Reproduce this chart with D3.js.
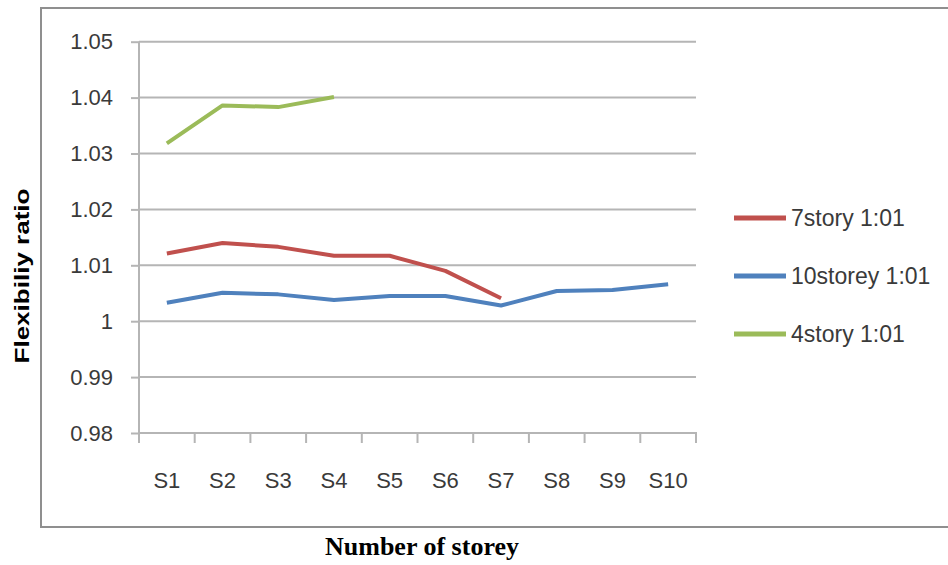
<!DOCTYPE html>
<html>
<head>
<meta charset="utf-8">
<script src="https://cdn.jsdelivr.net/npm/d3@7"></script>
<style>
  body { margin: 0; background: #fff; }
  text { font-family: "Liberation Sans", Arial, sans-serif; }
</style>
</head>
<body>
<div id="chart"></div>
<script>
// storey labels along x
var storeys = ["S1", "S2", "S3", "S4", "S5", "S6", "S7", "S8", "S9", "S10"];
var yTicks = [0.98, 0.99, 1, 1.01, 1.02, 1.03, 1.04, 1.05];

// flexibility ratio per storey
var story7 = [1.0121, 1.0140, 1.0133, 1.0117, 1.0117, 1.0090, 1.0041];
var storey10 = [1.0033, 1.0051, 1.0048, 1.0038, 1.0045, 1.0045, 1.0028, 1.0054, 1.0056, 1.0066];
var story4 = [1.0318, 1.0386, 1.0383, 1.0401];

var seriesNames = ["7story 1:01", "10storey 1:01", "4story 1:01"];
var seriesColors = ["#C0504D", "#4F81BD", "#9BBB59"];

var series = [story7, storey10, story4].map(function (vals, i) {
    return {name: seriesNames[i], color: seriesColors[i], values: vals};
});

var svg = d3.select("#chart").append("svg").attr("width", 948).attr("height", 565);

// outer chart frame
svg.append("rect").attr("x", 41).attr("y", 8).attr("width", 940).attr("height", 519)
    .attr("fill", "none").attr("stroke", "#8f8f8f").attr("stroke-width", 2);

var plotLeft = 139, plotRight = 696, plotTop = 41.7, plotBottom = 433;

var x = d3.scaleBand().domain(storeys).range([plotLeft, plotRight]);
var y = d3.scaleLinear().domain([0.98, 1.05]).range([plotBottom, plotTop]);

// gridlines
svg.append("g").selectAll("line").data(yTicks.filter(function (d) { return d > 0.98; }))
    .enter().append("line")
    .attr("x1", plotLeft).attr("x2", plotRight)
    .attr("y1", function (d) { return y(d); }).attr("y2", function (d) { return y(d); })
    .attr("stroke", "#b5b5b5").attr("stroke-width", 2);

var yAxis = svg.append("g").attr("transform", "translate(" + plotLeft + ",0)")
    .call(d3.axisLeft(y).tickValues(yTicks).tickSize(8).tickPadding(18)
        .tickFormat(function (d) { return d === 1 ? "1" : d3.format(".2f")(d); }));

var xAxis = svg.append("g").attr("transform", "translate(0," + plotBottom + ")")
    .call(d3.axisBottom(x).tickSize(10).tickPadding(29));
// ticks sit on band edges, not centres
xAxis.selectAll(".tick line").attr("x1", x.bandwidth() / 2).attr("x2", x.bandwidth() / 2);
xAxis.append("line").attr("x1", plotLeft).attr("x2", plotLeft).attr("y1", 0).attr("y2", 10);

[yAxis, xAxis].forEach(function (ax) {
    ax.selectAll("path.domain").attr("stroke", "#b5b5b5").attr("stroke-width", 2);
    ax.selectAll("line").attr("stroke", "#b5b5b5").attr("stroke-width", 2);
    ax.selectAll("text").attr("font-size", 22).attr("fill", "#3a3a3a")
        .style("font-family", "'Liberation Sans', Arial, sans-serif");
});
yAxis.selectAll("path.domain").attr("d", "M0," + plotBottom + "V" + plotTop);
xAxis.selectAll("path.domain").attr("d", "M" + plotLeft + ",0H" + plotRight + "V10");

// series lines
var line = d3.line()
    .x(function (d, i) { return x(storeys[i]) + x.bandwidth() / 2; })
    .y(function (d) { return y(d); });

svg.append("g").selectAll("path").data(series).enter().append("path")
    .attr("d", function (d) { return line(d.values); })
    .attr("fill", "none")
    .attr("stroke", function (d) { return d.color; })
    .attr("stroke-width", 4)
    .attr("stroke-linejoin", "round");

// legend
var legend = svg.append("g").selectAll("g").data(series).enter().append("g")
    .attr("transform", function (d, i) { return "translate(734," + (218 + i * 58) + ")"; });
legend.append("line").attr("x1", 0).attr("x2", 52)
    .attr("stroke", function (d) { return d.color; }).attr("stroke-width", 5);
legend.append("text").attr("x", 57).attr("dy", "0.36em")
    .attr("font-size", 23).attr("fill", "#3a3a3a")
    .text(function (d) { return d.name; });

// axis titles
svg.append("text")
    .attr("transform", "translate(29,276) rotate(-90)")
    .attr("text-anchor", "middle")
    .attr("font-size", 20).attr("font-weight", "bold").attr("fill", "#000")
    .attr("textLength", 175).attr("lengthAdjust", "spacingAndGlyphs")
    .text("Flexibiliy ratio");

svg.append("text")
    .attr("x", 422).attr("y", 555)
    .attr("text-anchor", "middle")
    .attr("font-size", 26).attr("font-weight", "bold").attr("fill", "#000")
    .style("font-family", "'Liberation Serif', 'Times New Roman', serif")
    .text("Number of storey");
</script>
</body>
</html>
